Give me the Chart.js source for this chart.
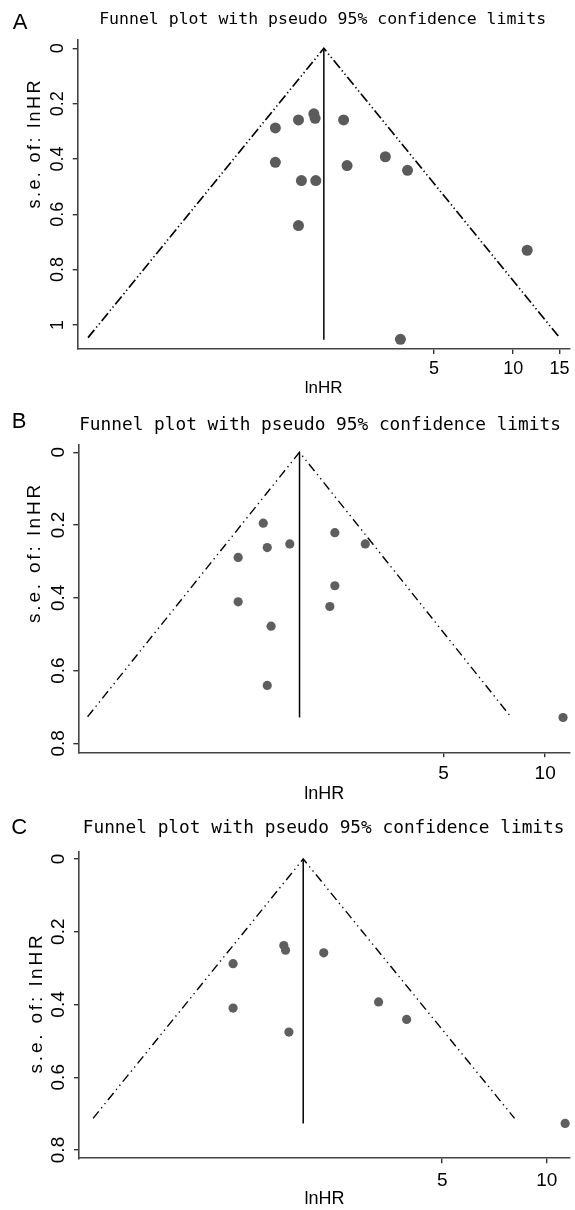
<!DOCTYPE html>
<html>
<head>
<meta charset="utf-8">
<script src="https://cdn.jsdelivr.net/npm/chart.js@4.4.1/dist/chart.umd.min.js"></script>
<style>
  html, body { margin: 0; padding: 0; background: #fff; }
  body { width: 575px; height: 1210px; position: relative; overflow: hidden; }
  canvas { position: absolute; left: 0; }
</style>
</head>
<body>
<canvas id="chartA" width="575" height="400" style="top:0px"></canvas>
<canvas id="chartB" width="575" height="405" style="top:400px"></canvas>
<canvas id="chartC" width="575" height="405" style="top:805px"></canvas>
<script>
// values: hazard ratio (plotted on a log axis) and its s.e.
const titleText = 'Funnel plot with pseudo 95% confidence limits';

// panel A
const aHR = [1.75, 1.77, 1.53, 2.27, 1.25, 1.25, 2.34, 1.57, 1.78, 3.27, 3.97, 1.53, 11.3, 3.73];
const aSE = [0.237, 0.253, 0.259, 0.259, 0.288, 0.412, 0.424, 0.478, 0.478, 0.392, 0.441, 0.641, 0.730, 1.052];
const aPooled = 1.91;
const aLimitHR = [0.243, 1.91, 15.0];
const aLimitSE = [1.046, 0, 1.046];
const aLineEnd = 1.054;
const aXTicks = [5, 10, 15];
const aYTicks = [0, 0.2, 0.4, 0.6, 0.8, 1];

// panel B
const bHR = [1.46, 2.38, 1.50, 1.75, 2.93, 1.23, 2.38, 1.23, 2.30, 1.54, 1.50, 11.3];
const bSE = [0.195, 0.221, 0.262, 0.252, 0.252, 0.289, 0.367, 0.411, 0.424, 0.478, 0.641, 0.729];
const bPooled = 1.87;
const bLimitHR = [0.440, 1.87, 7.91];
const bLimitSE = [0.727, 0, 0.727];
const bLineEnd = 0.729;
const bXTicks = [5, 10];
const bYTicks = [0, 0.2, 0.4, 0.6, 0.8];

// panel C
const cHR = [1.75, 1.77, 2.28, 1.25, 1.25, 3.28, 3.95, 1.81, 11.3];
const cSE = [0.238, 0.251, 0.258, 0.288, 0.410, 0.393, 0.441, 0.476, 0.727];
const cPooled = 1.99;
const cLimitHR = [0.494, 1.99, 8.08];
const cLimitSE = [0.713, 0, 0.713];
const cLineEnd = 0.727;
const cXTicks = [5, 10];
const cYTicks = [0, 0.2, 0.4, 0.6, 0.8];

const SANS = '"Liberation Sans", Arial, sans-serif';
const MONO = '"DejaVu Sans Mono", monospace';

// panel letter, rotated y title, and title centred where the original has it
const panelDecor = {
    id: 'panelDecor',
    afterLayout(chart, args, opts) {
        const t = chart.titleBlock;
        if (t) {
            t.left = opts.titleX - 285;
            t.right = opts.titleX + 285;
        }
    },
    afterDraw(chart, args, opts) {
        const ctx = chart.ctx;
        ctx.save();
        ctx.fillStyle = '#000';
        ctx.textAlign = 'center';
        ctx.textBaseline = 'middle';
        ctx.font = '22px ' + SANS;
        ctx.fillText(opts.letter, opts.letterX, opts.letterY);
        ctx.translate(opts.yTitleX, opts.yTitleY);
        ctx.rotate(-Math.PI / 2);
        ctx.font = opts.yTitleSize + 'px ' + SANS;
        ctx.letterSpacing = opts.yTitleSpacing + 'px';
        ctx.fillText('s.e. of: lnHR', 0, 0);
        ctx.restore();
    }
};

function toPoints(xs, ys) {
    return xs.map((x, i) => ({ x: x, y: ys[i] }));
}

function makePanel(id, p) {
    const axisGrid = { drawOnChartArea: false, drawTicks: true, tickLength: 5, color: '#333', lineWidth: 1.4 };
    const axisBorder = { display: true, color: '#444', width: 1.6 };
    return new Chart(document.getElementById(id), {
        type: 'scatter',
        data: {
            datasets: [
                {
                    label: 'studies',
                    data: toPoints(p.hr, p.se),
                    pointRadius: p.radius,
                    pointHoverRadius: p.radius,
                    pointBackgroundColor: p.dotColor,
                    pointBorderWidth: 0
                },
                {
                    label: 'pooled',
                    data: toPoints([p.pooled, p.pooled], [0, p.lineEnd]),
                    showLine: true,
                    borderColor: '#000',
                    borderWidth: 1.5,
                    pointRadius: 0
                },
                {
                    label: 'pseudo 95% limits',
                    data: toPoints(p.limitHR, p.limitSE),
                    showLine: true,
                    borderColor: '#000',
                    borderWidth: p.dashWidth,
                    borderDash: p.dash,
                    pointRadius: 0
                }
            ]
        },
        options: {
            responsive: false,
            animation: false,
            events: [],
            layout: { padding: { top: 0, left: 0, right: 5, bottom: 0 } },
            plugins: {
                legend: { display: false },
                tooltip: { enabled: false },
                title: {
                    display: true,
                    text: titleText,
                    color: '#000',
                    font: { family: MONO, size: p.titleSize, weight: 'normal', lineHeight: 1.2 },
                    padding: { top: p.titleTop, bottom: p.titleBottom }
                },
                panelDecor: {
                    titleX: p.titleX,
                    letter: p.letter, letterX: p.letterX, letterY: p.letterY,
                    yTitleX: p.yTitleX, yTitleY: p.yTitleY,
                    yTitleSize: p.yTitleSize, yTitleSpacing: p.yTitleSpacing
                }
            },
            scales: {
                x: {
                    type: 'logarithmic',
                    min: p.xMin,
                    max: p.xMax,
                    afterBuildTicks: s => { s.ticks = p.xTicks.map(v => ({ value: v })); },
                    afterFit: s => { s.height = p.xHeight; },
                    grid: axisGrid,
                    border: axisBorder,
                    ticks: {
                        autoSkip: false, maxRotation: 0,
                        padding: p.xTickPad,
                        color: '#000',
                        font: { family: SANS, size: p.tickSize },
                        callback: v => String(v)
                    },
                    title: {
                        display: true,
                        text: 'lnHR',
                        color: '#000',
                        font: { family: SANS, size: p.xTitleSize },
                        padding: { top: 0, bottom: p.xTitlePad }
                    }
                },
                y: {
                    type: 'linear',
                    reverse: true,
                    min: p.yMin,
                    max: p.yMax,
                    afterBuildTicks: s => { s.ticks = p.yTicks.map(v => ({ value: v })); },
                    afterFit: s => { s.width = p.yWidth; },
                    grid: axisGrid,
                    border: axisBorder,
                    ticks: {
                        minRotation: 90, maxRotation: 90,
                        crossAlign: 'center',
                        padding: p.yTickPad,
                        color: '#000',
                        font: { family: SANS, size: p.tickSize },
                        callback: v => String(v)
                    }
                }
            }
        },
        plugins: [panelDecor]
    });
}

makePanel('chartA', {
    hr: aHR, se: aSE, pooled: aPooled, lineEnd: aLineEnd, limitHR: aLimitHR, limitSE: aLimitSE,
    xTicks: aXTicks, yTicks: aYTicks,
    xMin: 0.222, xMax: 16.36, yMin: -0.030, yMax: 1.087,
    yWidth: 77.7, xHeight: 51,
    radius: 5.5, dotColor: '#5b5b5b', dash: [10, 3, 1.3, 3, 1.3, 3], dashWidth: 1.7,
    titleSize: 16.5, titleTop: 10.1, titleBottom: 10.1, titleX: 322.7,
    tickSize: 18, xTickPad: 4.2, yTickPad: 1.9, xTitleSize: 17, xTitlePad: 1.4,
    letter: 'A', letterX: 20, letterY: 22.5,
    yTitleX: 35, yTitleY: 143.3, yTitleSize: 18, yTitleSpacing: 2.4
});

makePanel('chartB', {
    hr: bHR, se: bSE, pooled: bPooled, lineEnd: bLineEnd, limitHR: bLimitHR, limitSE: bLimitSE,
    xTicks: bXTicks, yTicks: bYTicks,
    xMin: 0.413, xMax: 11.85, yMin: -0.020, yMax: 0.8247,
    yWidth: 78.3, xHeight: 52.7,
    radius: 4.6, dotColor: '#5f5f5f', dash: [9, 4, 1.3, 4, 1.3, 4], dashWidth: 1.4,
    titleSize: 17.8, titleTop: 15.0, titleBottom: 8.6, titleX: 320,
    tickSize: 19, xTickPad: 5, yTickPad: 1.8, xTitleSize: 18, xTitlePad: 0,
    letter: 'B', letterX: 19.2, letterY: 21.7,
    yTitleX: 35, yTitleY: 152.5, yTitleSize: 19, yTitleSpacing: 2.8
});

makePanel('chartC', {
    hr: cHR, se: cSE, pooled: cPooled, lineEnd: cLineEnd, limitHR: cLimitHR, limitSE: cLimitSE,
    xTicks: cXTicks, yTicks: cYTicks,
    xMin: 0.450, xMax: 11.67, yMin: -0.020, yMax: 0.8228,
    yWidth: 79, xHeight: 51.7,
    radius: 4.6, dotColor: '#5f5f5f', dash: [9, 4, 1.3, 4, 1.3, 4], dashWidth: 1.4,
    titleSize: 17.8, titleTop: 12.6, titleBottom: 12.7, titleX: 323.6,
    tickSize: 19, xTickPad: 5.6, yTickPad: 1.6, xTitleSize: 18, xTitlePad: 0.2,
    letter: 'C', letterX: 19.3, letterY: 23.3,
    yTitleX: 37, yTitleY: 198, yTitleSize: 19, yTitleSpacing: 2.8
});
</script>
</body>
</html>
